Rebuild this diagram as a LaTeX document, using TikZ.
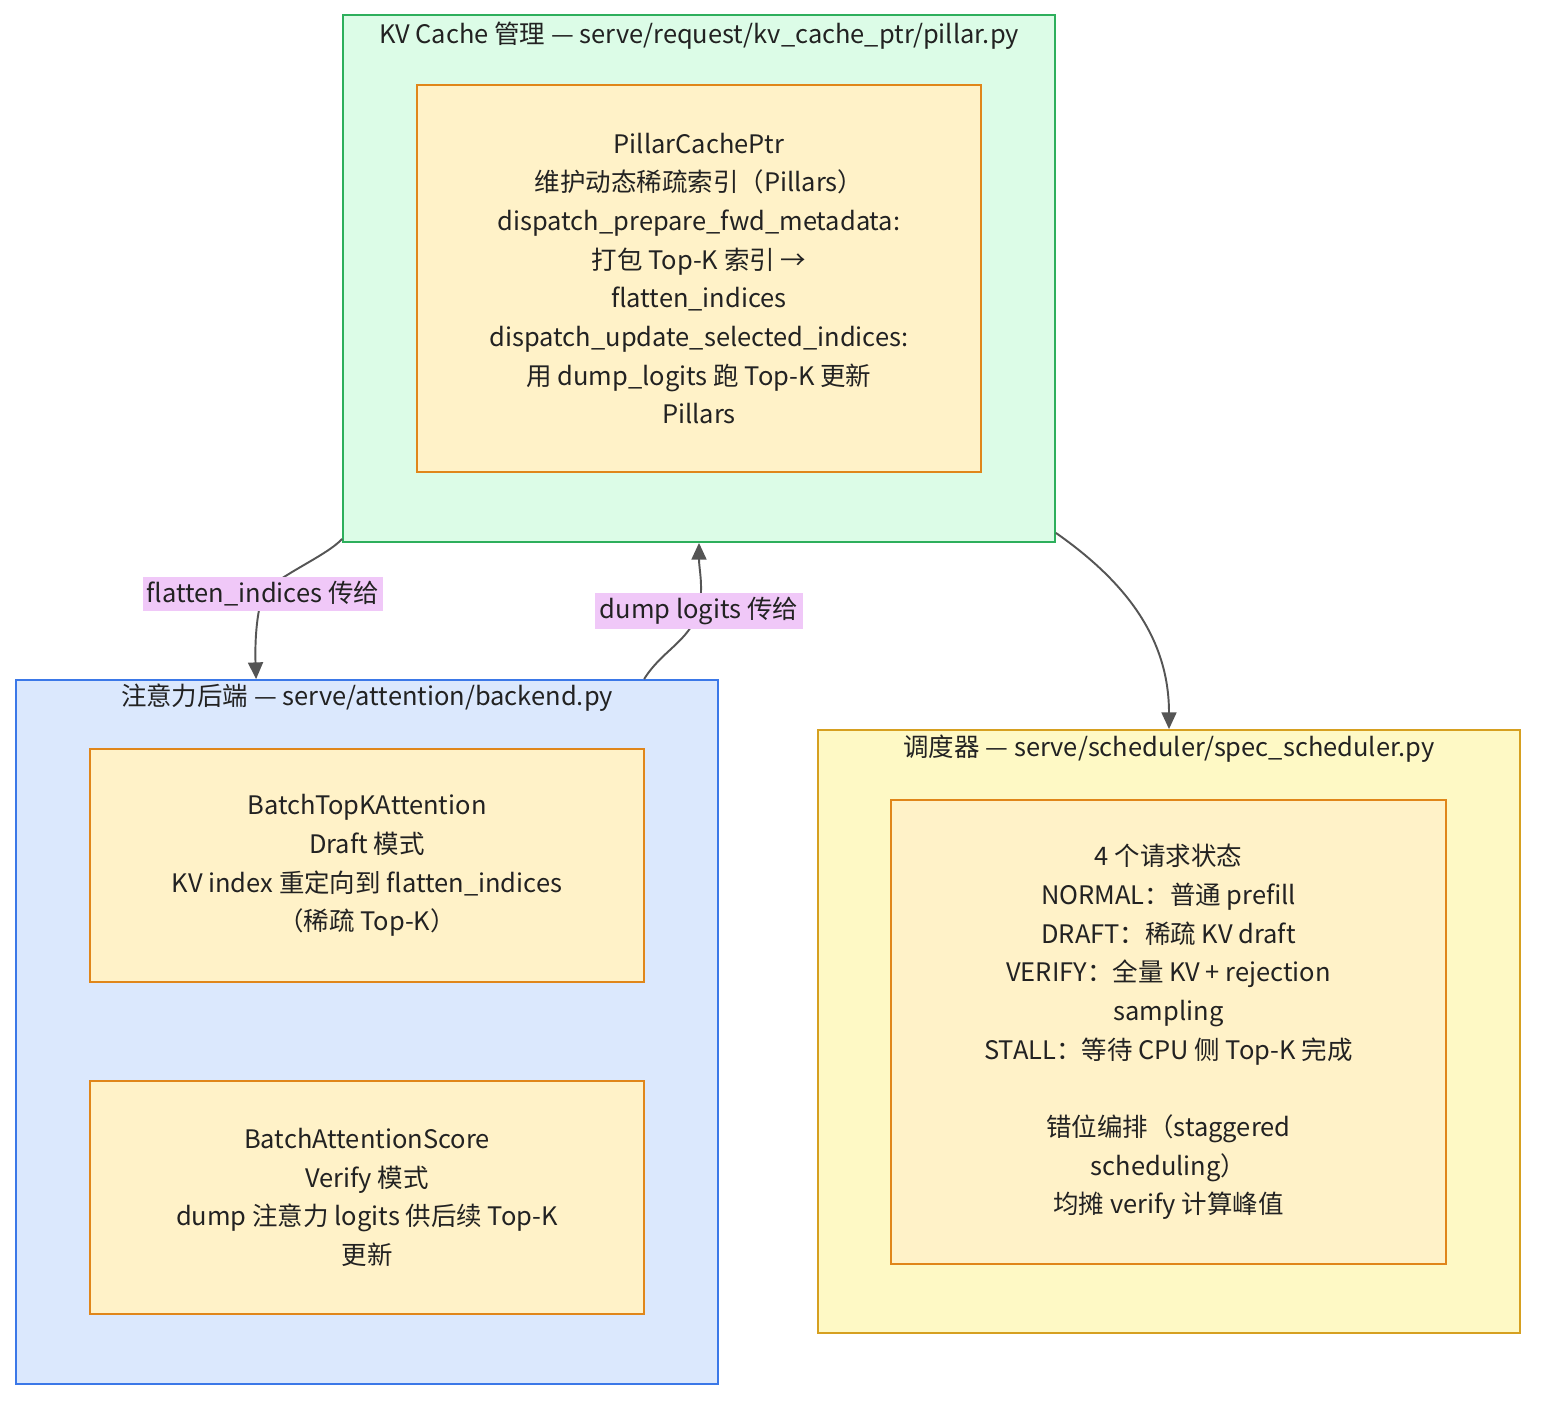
\documentclass[tikz,border=0pt]{standalone}
\usepackage{fontspec}
\setmainfont{Noto Sans CJK SC}
\usepackage{xcolor}
\usetikzlibrary{arrows.meta,positioning,calc}
\definecolor{ink}{HTML}{222222}
\definecolor{kvfill}{HTML}{DCFCE7}
\definecolor{kvline}{HTML}{2DAF5C}
\definecolor{attfill}{HTML}{DBE8FD}
\definecolor{attline}{HTML}{3B78E8}
\definecolor{schedfill}{HTML}{FEF9C5}
\definecolor{schedline}{HTML}{D6A020}
\definecolor{nodefill}{HTML}{FFF2C8}
\definecolor{nodeline}{HTML}{E0861A}
\definecolor{labelpink}{HTML}{F0C8F8}
\definecolor{edgegrey}{HTML}{555555}

\begin{document}
\begin{tikzpicture}[x=0.02cm, y=-0.02cm,
	every node/.style={text=ink, font=\fontsize{14.5}{22}\selectfont},
	cluster/.style={draw, line width=1.1pt, inner sep=0pt},
	box/.style={draw=nodeline, fill=nodefill, line width=1.1pt, align=center, inner sep=0pt},
	heading/.style={align=center, inner sep=0pt},
	edgelabel/.style={fill=labelpink, inner sep=2.5pt},
	flow/.style={draw=edgegrey, line width=1.1pt, -{Triangle[length=9.5pt,width=8.5pt]}}]
	\useasboundingbox (0,0) rectangle (1552,1416);
	% Clusters
	\node[cluster, draw=kvline, fill=kvfill, minimum width=14.24cm, minimum height=10.54cm] (kv) at (699,278.5) {};
	\node[heading] (kvtitle) at (699,36) {KV Cache 管理 — serve/request/kv\_cache\_ptr/pillar.py};
	\node[cluster, draw=attline, fill=attfill, minimum width=14.04cm, minimum height=14.08cm] (att) at (367,1032) {};
	\node[heading] (atttitle) at (367,698) {注意力后端 — serve/attention/backend.py};
	\node[cluster, draw=schedline, fill=schedfill, minimum width=14.04cm, minimum height=12.06cm] (sched) at (1169,1031.5) {};
	\node[heading] (schedtitle) at (1169,749) {调度器 — serve/scheduler/spec\_scheduler.py};
	% Nodes
	\node[box, minimum width=11.28cm, minimum height=7.74cm] (pillar) at (699,278.5) {PillarCachePtr\\
		维护动态稀疏索引（Pillars）\\
		dispatch\_prepare\_fwd\_metadata:\\
		打包 Top-K 索引 →\\
		flatten\_indices\\
		dispatch\_update\_selected\_indices:\\
		用 dump\_logits 跑 Top-K 更新\\
		Pillars};
	\node[box, minimum width=11.08cm, minimum height=4.66cm] (topk) at (367,865.5) {BatchTopKAttention\\
		Draft 模式\\
		KV index 重定向到 flatten\_indices\\
		（稀疏 Top-K）};
	\node[box, minimum width=11.08cm, minimum height=4.66cm] (score) at (367,1197.5) {BatchAttentionScore\\
		Verify 模式\\
		dump 注意力 logits 供后续 Top-K\\
		更新};
	\node[box, minimum width=11.1cm, minimum height=9.28cm] (states) at (1168.5,1032) {4 个请求状态\\
		NORMAL：普通 prefill\\
		DRAFT：稀疏 KV draft\\
		VERIFY：全量 KV + rejection\\
		sampling\\
		STALL：等待 CPU 侧 Top-K 完成\\[22pt]
		错位编排（staggered\\
		scheduling）\\
		均摊 verify 计算峰值};
	% Edges
	\coordinate (flat) at (263,594);
	\coordinate (dump) at (699,611);
	\draw[flow] ($(kv.south west)+(0,-4)$) to[out=228,in=52,looseness=0.6] (flat) to[out=-108,in=92,looseness=0.8] ($(att.north west)+(241,0)$);
	\draw[flow] ($(att.north west)+(629,0)$) to[out=58,in=-110] (dump) to[out=80,in=-90] (kv.south);
	\draw[flow] ($(kv.south east)+(0,-10)$) to[out=-35,in=90] (sched.north);
	% Edge labels
	\node[edgelabel] (flatlabel) at (flat) {flatten\_indices 传给};
	\node[edgelabel] (dumplabel) at (dump) {dump logits 传给};
\end{tikzpicture}
\end{document}
